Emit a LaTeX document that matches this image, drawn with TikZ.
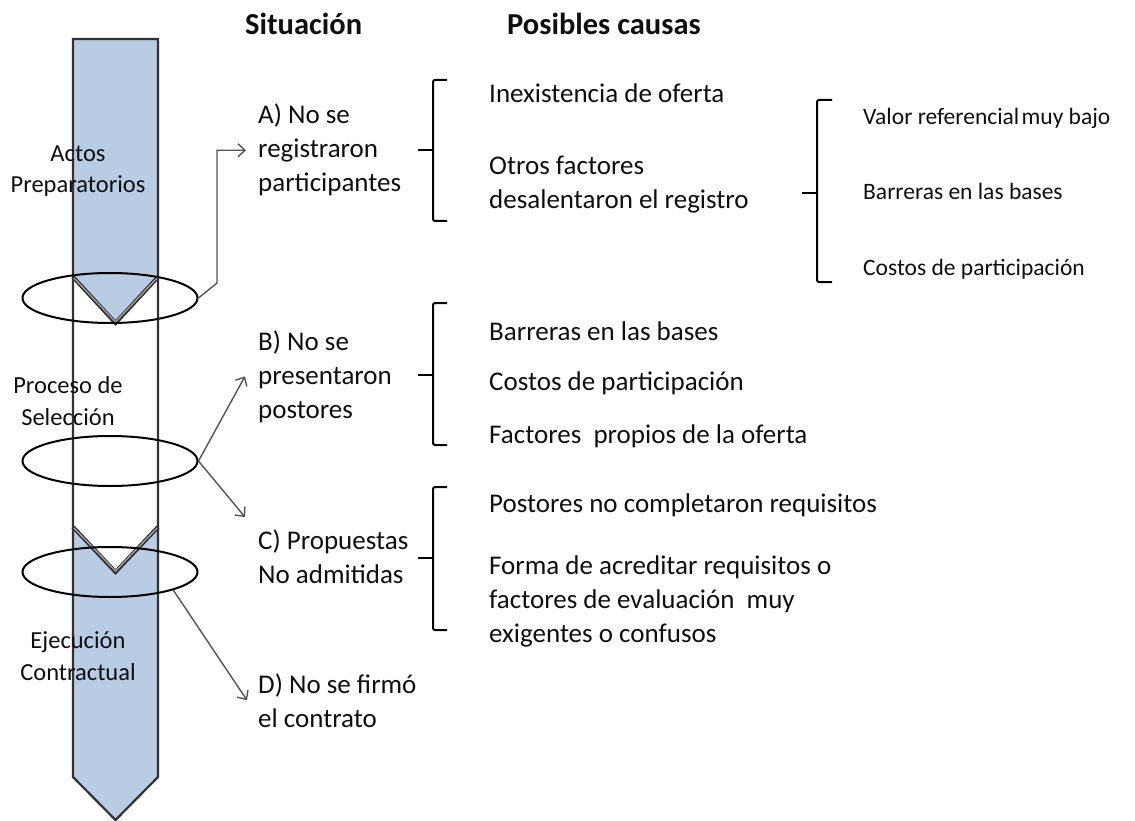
\documentclass[tikz,border=0pt]{standalone}
\usepackage{fontspec}
\setmainfont{Carlito}
\usetikzlibrary{shapes.geometric,arrows.meta,calc}
\definecolor{segblue}{RGB}{184,204,228}
\definecolor{segline}{RGB}{50,50,50}
\definecolor{connc}{RGB}{85,85,85}
\definecolor{txt}{RGB}{15,15,15}
\begin{document}
\begin{tikzpicture}[x=1pt,y=-1pt,
  outline/.style={draw=segline,line width=2.2pt},
  vline/.style={draw=segline,line width=4pt},
  vinner/.style={draw=gray!60,line width=1.1pt},
  ring/.style={ellipse,draw=black,line width=2pt,minimum width=175pt,minimum height=50pt,inner sep=0pt},
  conn/.style={draw=connc,line width=1.4pt,-{Straight Barb[length=7pt,width=13pt]}},
  brk/.style={draw=black,line width=2pt,rounded corners=2pt},
  head/.style={font=\fontsize{30.5}{36}\selectfont\bfseries,anchor=base west,inner sep=0pt,text=txt},
  sit/.style={font=\fontsize{27}{34}\selectfont,align=left,anchor=base west,inner sep=0pt,text=txt},
  cause/.style={font=\fontsize{27}{34}\selectfont,align=left,anchor=base west,inner sep=0pt,text=txt},
  sub/.style={font=\fontsize{23.5}{28}\selectfont,anchor=base west,inner sep=0pt,text=txt},
  phase/.style={font=\fontsize{24.5}{31.5}\selectfont,align=center,anchor=base,inner sep=0pt,text=txt},
]
\useasboundingbox (0,0) rectangle (1135,821);

% column segments
\fill[segblue] (73,39) -- (158,39) -- (158,277) -- (115.5,323) -- (73,277) -- cycle;
\fill[segblue] (73,527) -- (115.5,572) -- (158,527) -- (158,777) -- (115.5,820) -- (73,777) -- cycle;
\draw[outline] (73,777) -- (73,39) -- (158,39) -- (158,777) -- (115.5,820) -- cycle;
\draw[vline] (73,277) -- (115.5,323) -- (158,277);
\draw[vinner] (74,278) -- (115.5,322) -- (157,278);
\draw[vline] (73,527) -- (115.5,572) -- (158,527);
\draw[vinner] (74,528) -- (115.5,571) -- (157,528);

% rings
\node[ring] (e1) at (110,298) {};
\node[ring] (e2) at (110,461) {};
\node[ring] (e3) at (110,572) {};

% phase labels (anchor = baseline of last line)
\node[phase] (pA) at (78,193) {Actos\\Preparatorios};
\node[phase] (pB) at (68,425) {Proceso de\\Selección};
\node[phase] (pC) at (78,680) {Ejecución\\Contractual};

% headings
\node[head] (hS) at (245,35) {Situación};
\node[head] (hP) at (507,35) {Posibles causas};

% situations
\node[sit] (sitA) at (258,192) {A) No se\\registraron\\participantes};
\node[sit] (sitB) at (258,418) {B) No se\\presentaron\\postores};
\node[sit] (sitC) at (258,583) {C) Propuestas\\No admitidas};
\node[sit] (sitD) at (258,727) {D) No se firmó\\el contrato};

% connectors
\coordinate (bendA) at (217,283);
\draw[conn] (e1.east) -- (bendA) |- ($(sitA.west)+(-12,0)$);
\draw[conn] (e2.east) -- ($(sitB.west)+(-13,0)$);
\draw[conn] (e2.east) -- ($(sitC.north west)+(-13,-12)$);
\draw[conn] (e3.-16) -- ($(sitD.west)+(-11,0)$);

% causes
\node[cause] (cA1) at (489,103) {Inexistencia de oferta};
\node[cause] (cA2) at (489,208) {Otros factores\\desalentaron el registro};
\node[sub] (sA1) at (863,125) {Valor referencial\hspace{0.1em}muy bajo};
\node[sub] (sA2) at (863,200) {Barreras en las bases};
\node[sub] (sA3) at (863,275) {Costos de participación};
\node[cause] (cB1) at (489,340) {Barreras en las bases};
\node[cause] (cB2) at (489,390) {Costos de participación};
\node[cause] (cB3) at (489,443) {Factores\ \ propios de la oferta};
\node[cause] (cC1) at (489,512) {Postores no completaron requisitos};
\node[cause] (cC2) at (489,642) {Forma de acreditar requisitos o\\factores de evaluación\ \ muy\\exigentes o confusos};

% brackets
\draw[brk] (447,80) -- (433,80) -- (433,221) -- (447,221);
\draw[brk] (433,150) -- (418,150);
\draw[brk] (447,303) -- (433,303) -- (433,445) -- (447,445);
\draw[brk] (433,375) -- (418,375);
\draw[brk] (447,487) -- (433,487) -- (433,630) -- (447,630);
\draw[brk] (433,558) -- (418,558);
\draw[brk] (832,100) -- (817,100) -- (817,282) -- (832,282);
\draw[brk] (817,193) -- (802,193);
\end{tikzpicture}
\end{document}
